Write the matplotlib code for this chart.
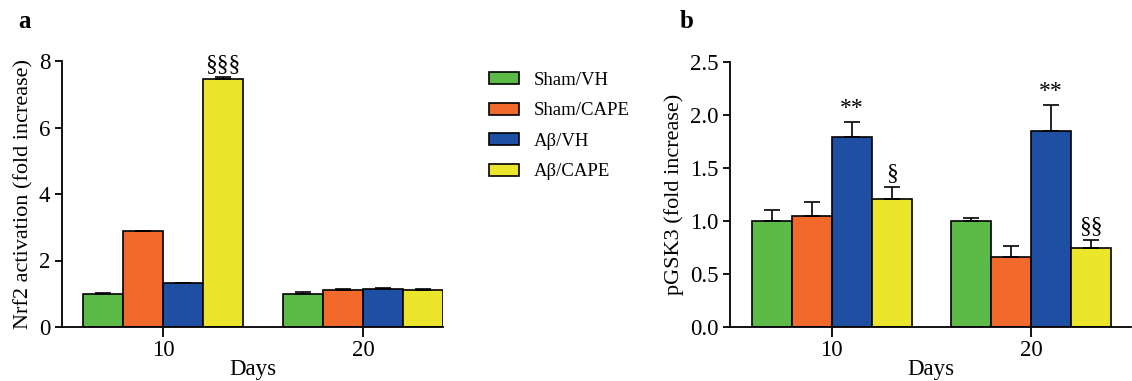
import numpy as np
import matplotlib
matplotlib.use("Agg")
import matplotlib.pyplot as plt
from matplotlib.patches import Patch

plt.rcParams['font.family'] = ['Liberation Serif', 'DejaVu Serif']

# data
days = ['10', '20']
groups = ['Sham/VH', 'Sham/CAPE', 'A\u03b2/VH', 'A\u03b2/CAPE']
colors = ['#5cba47', '#f26a2b', '#1e4fa2', '#ebe62c']

nrf2_mean = [[1.00, 2.89, 1.32, 7.46],
             [1.00, 1.12, 1.15, 1.12]]
nrf2_err = [[0.03, 0.00, 0.00, 0.07],
            [0.04, 0.01, 0.01, 0.02]]
nrf2_marks = [['', '', '', '\u00a7\u00a7\u00a7'],
              ['', '', '', '']]

gsk_mean = [[1.00, 1.05, 1.79, 1.21],
            [1.00, 0.66, 1.85, 0.75]]
gsk_err = [[0.10, 0.13, 0.14, 0.11],
           [0.03, 0.10, 0.24, 0.07]]
gsk_marks = [['', '', '**', '\u00a7'],
             ['', '', '**', '\u00a7\u00a7']]

W, H = 1132, 381
fig = plt.figure(figsize=(W / 100, H / 100), dpi=100)

axa = fig.add_axes([62 / W, 1 - 327 / H, (443 - 62) / W, (327 - 61) / H])
axb = fig.add_axes([730 / W, 1 - 327 / H, (1131 - 730) / W, (327 - 62) / H])

bw = 0.2
x = np.arange(len(days))


def draw(ax, means, errs, marks, gap):
    means = np.array(means)
    errs = np.array(errs)
    for i in range(len(groups)):
        xs = x + (i - 1.5) * bw
        ys = means[:, i]
        ax.bar(xs, ys, width=bw, color=colors[i], edgecolor='black', linewidth=1.2, zorder=2)
        e = errs[:, i]
        ax.errorbar(xs, ys, yerr=[np.zeros_like(e), e], fmt='none', ecolor='black',
                    elinewidth=1.2, capsize=6, capthick=1.2, zorder=3)
        for j in range(len(days)):
            if marks[j][i]:
                ax.text(xs[j], ys[j] + e[j] + gap, marks[j][i], ha='center', va='bottom',
                        fontsize=17)
    ax.set_xticks(x)
    ax.set_xticklabels(days)
    ax.set_xlabel('Days', fontsize=16.5, labelpad=-1)
    for s in ['top', 'right']:
        ax.spines[s].set_visible(False)
    for s in ['left', 'bottom']:
        ax.spines[s].set_linewidth(1.3)
    ax.tick_params(axis='both', labelsize=16.5, width=1.3, length=5, direction='out')
    ax.tick_params(axis='x', length=7, pad=2)


draw(axa, nrf2_mean, nrf2_err, nrf2_marks, 0.05)
axa.set_xlim(-0.505, 1.4)
axa.set_ylim(0, 8)
axa.set_yticks([0, 2, 4, 6, 8])
axa.set_ylabel('Nrf2 activation (fold increase)', fontsize=16)

draw(axb, gsk_mean, gsk_err, gsk_marks, 0.03)
axb.set_xlim(-0.51, 1.5)
axb.set_ylim(0, 2.5)
axb.set_yticks([0, 0.5, 1.0, 1.5, 2.0, 2.5])
axb.set_yticklabels(['0.0', '0.5', '1.0', '1.5', '2.0', '2.5'])
axb.set_ylabel('pGSK3 (fold increase)', fontsize=16)

handles = [Patch(facecolor=c, edgecolor='black', linewidth=1.2) for c in colors]
fig.legend(handles, groups, loc='upper left', bbox_to_anchor=(472 / W, 1 - 55 / H),
           frameon=False, fontsize=13.5, handlelength=1.6, handleheight=0.6,
           labelspacing=0.72, handletextpad=0.8)

fig.text(18 / W, 1 - 22 / H, 'a', fontsize=18, fontweight='bold', va='center')
fig.text(680 / W, 1 - 22 / H, 'b', fontsize=18, fontweight='bold', va='center')

fig.savefig('out.png', dpi=100)
